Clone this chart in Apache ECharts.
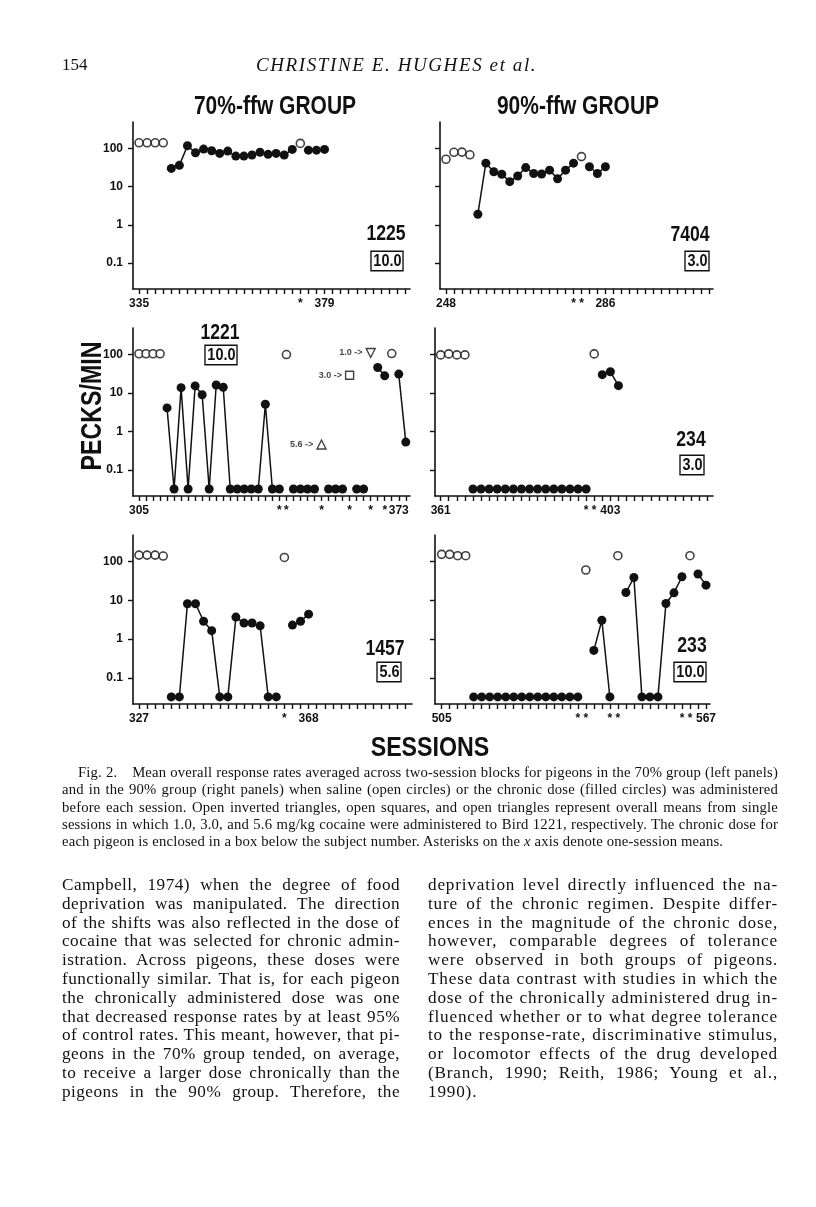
<!DOCTYPE html>
<html><head><meta charset="utf-8">
<script src="https://cdn.jsdelivr.net/npm/echarts@6/dist/echarts.min.js"></script>
<style>
html,body{margin:0;padding:0;background:#fff;}
#wrap{position:relative;width:816px;height:1207px;overflow:hidden;background:#fff;}
#chart{position:absolute;left:0;top:0;width:816px;height:1207px;}
.t{position:absolute;font-family:'Liberation Serif','Times New Roman',serif;color:#111;white-space:nowrap;}
.blk div{white-space:nowrap;}
.j{text-align:justify;text-align-last:justify;}
#meas{position:absolute;left:0;top:-200px;visibility:hidden;white-space:nowrap;font-family:'Liberation Serif','Times New Roman',serif;}
</style></head><body>
<div id="wrap">
<div id="chart"></div>
<div class="t" style="left:62px;top:55px;font-size:17px;line-height:20px;">154</div>
<div class="t" style="left:256px;top:55px;font-size:19px;line-height:20px;font-style:italic;letter-spacing:1.6px;">CHRISTINE E. HUGHES et al.</div>
<div id="caption" class="t blk" style="left:62px;top:764px;width:716px;font-size:14.7px;line-height:17.25px;"></div>
<div id="colL" class="t blk" style="left:62px;top:876px;width:338px;font-size:17.2px;line-height:18.8px;"></div>
<div id="colR" class="t blk" style="left:428px;top:876px;width:350px;font-size:17.2px;line-height:18.8px;"></div>
<span id="meas"></span>
</div>
<script>
// ---------------- data ----------------
const yTickValues = [0.1, 1, 10, 100];
const zeroPlotValue = 0.032; // where zero response rates are drawn (below 0.1)

// Bird 1225 (70% group, chronic dose 10.0)
const b1225Open = [[0,140],[1,140],[2,140],[3,140],[20,135]];
const b1225Filled = [[4,[30,36,117,77,96,87,74,85,63,63,67,79,70,74,67,94]],[21,[90,90,94]]];
const b1225XLabels = [[0,'335'],[23,'379']];
const b1225Stars = [20];

// Bird 7404 (90% group, chronic dose 3.0)
const b7404Open = [[0,52],[1,79],[2,80],[3,68],[17,61]];
const b7404Filled = [[4,[1.9,41,24.5,21,13.5,19,31.5,22,21.4,27,16,27,41]],[18,[33,22,33]]];
const b7404XLabels = [[0,'248'],[20,'286']];
const b7404Stars = [16,17];

// Bird 1221 (70% group, chronic dose 10.0)
const b1221Open = [[0,105],[1,105],[2,105],[3,105],[21,100],[36,106]];
const b1221Filled = [[4,[4.1,0,13.8,0,15.3,9,0,16.2,14.1,0,0,0,0,0,5.1,0,0]],[22,[0,0,0,0]],[27,[0,0,0]],[31,[0,0]],[34,[46,28]],[37,[31,0.53]]];
const b1221Single = [['1.0',33,110,'invtri'],['3.0',30,29,'square'],['5.6',26,0.46,'tri']];
const b1221XLabels = [[0,'305'],[37,'373']];
const b1221Stars = [20,21,26,30,33,35];

// Bird 234 (90% group, chronic dose 3.0)
const b234Open = [[0,98],[1,104],[2,98],[3,98],[19,104]];
const b234Filled = [[4,[0,0,0,0,0,0,0,0,0,0,0,0,0,0,0]],[20,[30,35.6,15.5]]];
const b234XLabels = [[0,'361'],[21,'403']];
const b234Stars = [18,19];

// Bird 1457 (70% group, chronic dose 5.6)
const b1457Open = [[0,148],[1,148],[2,148],[3,140],[18,129]];
const b1457Filled = [[4,[0,0,8.2,8.2,2.9,1.65,0,0,3.7,2.6,2.6,2.2,0,0]],[19,[2.3,2.9,4.4]]];
const b1457XLabels = [[0,'327'],[21,'368']];
const b1457Stars = [18];

// Bird 233 (90% group, chronic dose 10.0)
const b233Open = [[0,155],[1,155],[2,143],[3,143],[18,61],[22,143],[31,143]];
const b233Filled = [[4,[0,0,0,0,0,0,0,0,0,0,0,0,0,0]],[19,[0.51,3.07,0]],[23,[16,39,0,0,0,8.3,15.7,40.8]],[32,[48,24.8]]];
const b233XLabels = [[0,'505'],[33,'567']];
const b233Stars = [17,18,21,22,30,31];

const birds = ['1225','7404','1221','234','1457','233'];
const chronicDoses = ['10.0','3.0','10.0','3.0','5.6','10.0'];
const groupTitles = ['70%-ffw GROUP','90%-ffw GROUP'];
const yAxisName = 'PECKS/MIN';
const xAxisName = 'SESSIONS';

const captionLines = [
 'Fig. 2.\u2003Mean overall response rates averaged across two-session blocks for pigeons in the 70% group (left panels)',
 'and in the 90% group (right panels) when saline (open circles) or the chronic dose (filled circles) was administered',
 'before each session. Open inverted triangles, open squares, and open triangles represent overall means from single',
 'sessions in which 1.0, 3.0, and 5.6 mg/kg cocaine were administered to Bird 1221, respectively. The chronic dose for',
 'each pigeon is enclosed in a box below the subject number. Asterisks on the <i>x</i> axis denote one-session means.'
];
const bodyLeft = [
 'Campbell, 1974) when the degree of food','deprivation was manipulated. The direction','of the shifts was also reflected in the dose of',
 'cocaine that was selected for chronic admin-','istration. Across pigeons, these doses were','functionally similar. That is, for each pigeon',
 'the chronically administered dose was one','that decreased response rates by at least 95%','of control rates. This meant, however, that pi-',
 'geons in the 70% group tended, on average,','to receive a larger dose chronically than the','pigeons in the 90% group. Therefore, the'
];
const bodyRight = [
 'deprivation level directly influenced the na-','ture of the chronic regimen. Despite differ-','ences in the magnitude of the chronic dose,',
 'however, comparable degrees of tolerance','were observed in both groups of pigeons.','These data contrast with studies in which the',
 'dose of the chronically administered drug in-','fluenced whether or to what degree tolerance','to the response-rate, discriminative stimulus,',
 'or locomotor effects of the drug developed','(Branch, 1990; Reith, 1986; Young et al.,','1990).'
];

// ---------------- text blocks ----------------
function fill(id, lines, lastPlain, indent) {
  const el = document.getElementById(id);
  const width = parseFloat(el.style.width);
  const meas = document.getElementById('meas');
  meas.style.fontSize = el.style.fontSize;
  // letter-spacing that lets the tightest justified line just fit
  let ls = 10;
  lines.forEach((l, i) => {
    if (lastPlain && i === lines.length - 1) return;
    meas.innerHTML = l;
    const nat = meas.getBoundingClientRect().width;
    const avail = width - ((indent && i === 0) ? indent : 0);
    const chars = meas.textContent.length;
    ls = Math.min(ls, (avail - nat) / chars);
  });
  ls = ls * 0.9;
  el.style.letterSpacing = ls.toFixed(2) + 'px';
  el.innerHTML = lines.map((l, i) => {
    const cls = (lastPlain && i === lines.length - 1) ? '' : 'j';
    const st = (indent && i === 0) ? ' style="padding-left:' + indent + 'px"' : '';
    return '<div class="' + cls + '"' + st + '>' + l + '</div>';
  }).join('');
}
fill('caption', captionLines, true, 16);
fill('colL', bodyLeft, false, 0);
fill('colR', bodyRight, true, 0);

// ---------------- chart ----------------
const panelData = [
  {open:b1225Open, filled:b1225Filled, xl:b1225XLabels, stars:b1225Stars},
  {open:b7404Open, filled:b7404Filled, xl:b7404XLabels, stars:b7404Stars},
  {open:b1221Open, filled:b1221Filled, xl:b1221XLabels, stars:b1221Stars, single:b1221Single},
  {open:b234Open, filled:b234Filled, xl:b234XLabels, stars:b234Stars},
  {open:b1457Open, filled:b1457Filled, xl:b1457XLabels, stars:b1457Stars},
  {open:b233Open, filled:b233Filled, xl:b233XLabels, stars:b233Stars}
];
// layout (pixels) and x ranges per panel
const layout = [
  {left:133, top:122, width:277, height:167, xmin:-0.75, xmax:33.6, nt:34, yl:true,  id:[386,234], box:[387,261]},
  {left:440, top:122, width:273, height:167, xmin:-0.75, xmax:33.5, nt:34, yl:false, id:[690,235], box:[697,261]},
  {left:133, top:328, width:277, height:168, xmin:-0.85, xmax:38.6, nt:39, yl:true,  id:[220,333], box:[221,355]},
  {left:435, top:328, width:278, height:168, xmin:-0.7,  xmax:33.7, nt:34, yl:false, id:[691,440], box:[692,465]},
  {left:133, top:535, width:279, height:169, xmin:-0.74, xmax:33.8, nt:34, yl:true,  id:[385,649], box:[389,672]},
  {left:435, top:535, width:275, height:169, xmin:-0.83, xmax:33.5, nt:34, yl:false, id:[692,646], box:[690,672]}
];
const INK = '#111';
const SANS = "'Liberation Sans',Arial,sans-serif";
const grids = [], xAxes = [], yAxes = [], series = [], graphics = [];
const plotY = v => (v === 0 ? zeroPlotValue : v);

layout.forEach((L, i) => {
  const P = panelData[i];
  grids.push({left:L.left, top:L.top, width:L.width, height:L.height, containLabel:false});
  const tickVals = []; for (let k = 0; k < L.nt; k++) tickVals.push(k);
  const lab = {}; P.xl.forEach(([k, s]) => { lab[k] = s; }); P.stars.forEach(k => { lab[k] = '*'; });
  const labVals = Object.keys(lab).map(Number);
  xAxes.push({
    gridIndex:i, type:'value', min:L.xmin, max:L.xmax,
    axisLine:{show:true, onZero:false, lineStyle:{color:INK, width:1.6}},
    axisTick:{show:true, customValues:tickVals, length:5, lineStyle:{color:INK, width:1.4}},
    axisLabel:{show:true, customValues:labVals, formatter:v => lab[Math.round(v)] || '', margin:9,
      fontFamily:'Liberation Sans', fontWeight:'bold', fontSize:12, color:INK},
    splitLine:{show:false}
  });
  yAxes.push({
    gridIndex:i, type:'log', logBase:10, min:0.021, max:490,
    axisLine:{show:true, onZero:false, lineStyle:{color:INK, width:1.6}},
    axisTick:{show:true, customValues:yTickValues, length:5, lineStyle:{color:INK, width:1.4}},
    axisLabel:{show:L.yl, customValues:yTickValues, formatter:v => String(v), margin:10,
      fontFamily:'Liberation Sans', fontWeight:'bold', fontSize:12, color:INK},
    splitLine:{show:false}
  });
  P.filled.forEach(([start, vals]) => {
    series.push({
      type:'line', xAxisIndex:i, yAxisIndex:i, animation:false, z:3,
      data: vals.map((v, k) => [start + k, plotY(v)]),
      symbol:'circle', symbolSize:9, showSymbol:true,
      itemStyle:{color:INK}, lineStyle:{color:INK, width:1.5}
    });
  });
  series.push({
    type:'scatter', xAxisIndex:i, yAxisIndex:i, animation:false, z:4,
    data: P.open.map(([k, v]) => [k, v]),
    symbol:'circle', symbolSize:8,
    itemStyle:{color:'#fff', borderColor:INK, borderWidth:1.6}
  });
  if (P.single) {
    series.push({
      type:'scatter', xAxisIndex:i, yAxisIndex:i, animation:false, z:4,
      data: P.single.map(([dose, k, v, shape]) => ({
        value:[k, v],
        symbol: shape === 'square' ? 'rect' : 'triangle',
        symbolRotate: shape === 'invtri' ? 180 : 0,
        symbolSize: shape === 'square' ? 8 : 9,
        label:{show:true, position:'left', distance:3, formatter: dose + ' ->',
          fontFamily:'Liberation Sans', fontWeight:'bold', fontSize:9, color:INK}
      })),
      itemStyle:{color:'#fff', borderColor:INK, borderWidth:1.4}
    });
  }
  graphics.push({type:'text', x:L.id[0], y:L.id[1], scaleX:0.8, style:{text:birds[i], fill:INK,
    font:"bold 22px " + SANS, textAlign:'center', textVerticalAlign:'middle'}});
  graphics.push({type:'text', x:L.box[0], y:L.box[1], scaleX:0.85, style:{text:chronicDoses[i], fill:INK,
    font:"bold 17px " + SANS, textAlign:'center', textVerticalAlign:'middle',
    backgroundColor:'#fff', borderColor:INK, borderWidth:1.6, padding:[1,1,0,2]}});
});
graphics.push({type:'text', x:275, y:107, scaleX:0.84, style:{text:groupTitles[0], fill:INK, font:"bold 25px " + SANS, textAlign:'center', textVerticalAlign:'middle'}});
graphics.push({type:'text', x:578, y:107, scaleX:0.84, style:{text:groupTitles[1], fill:INK, font:"bold 25px " + SANS, textAlign:'center', textVerticalAlign:'middle'}});
graphics.push({type:'text', x:93, y:406, rotation:Math.PI/2, scaleX:0.8, style:{text:yAxisName, fill:INK, font:"bold 29px " + SANS, textAlign:'center', textVerticalAlign:'middle'}});
graphics.push({type:'text', x:430, y:749, scaleX:0.86, style:{text:xAxisName, fill:INK, font:"bold 27px " + SANS, textAlign:'center', textVerticalAlign:'middle'}});

const chart = echarts.init(document.getElementById('chart'), null, {renderer:'canvas'});
chart.setOption({
  animation:false, backgroundColor:'transparent',
  grid:grids, xAxis:xAxes, yAxis:yAxes, series:series, graphic:graphics
});
</script>
</body></html>
